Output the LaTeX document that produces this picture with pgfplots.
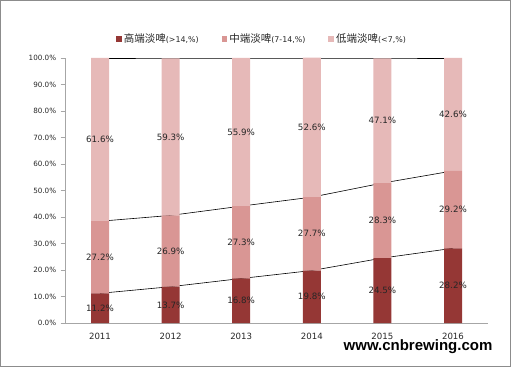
\documentclass[border=0pt]{standalone}
\usepackage{pgfplots}
\pgfplotsset{compat=1.18}
\usepackage{fontspec}
\setmainfont{DejaVu Sans}
\newfontfamily\cjk{Noto Sans CJK SC}
\newfontfamily\wm{Liberation Sans}
\definecolor{c1}{HTML}{953735}
\definecolor{c2}{HTML}{D99694}
\definecolor{c3}{HTML}{E6B9B8}
\definecolor{axgray}{HTML}{A6A6A6}
\definecolor{bordergray}{HTML}{8C8C8C}
\begin{document}
\begin{tikzpicture}[x=1pt,y=1pt]
\useasboundingbox (0,0) rectangle (511,367);
\draw[bordergray, line width=1.2pt] (0.6,0.6) rectangle (510.4,366.4);
\pgfplotsset{base/.style={scale only axis, width=423.6pt, height=265pt,
  at={(64.7pt,44pt)}, anchor=south west, xmin=-0.5, xmax=5.5, ymin=0, ymax=100}}
% series lines (behind bars)
\begin{axis}[base, hide axis]
\addplot[black, line width=0.6pt] coordinates {(0,11.2)(1,13.7)(2,16.8)(3,19.8)(4,24.5)(5,28.2)};
\addplot[black, line width=0.6pt] coordinates {(0,38.4)(1,40.6)(2,44.1)(3,47.5)(4,52.8)(5,57.4)};
\addplot[black, line width=0.6pt] coordinates {(0,100)(1,100)(2,100)(3,100)(4,100)(5,100)};
\end{axis}
\begin{axis}[base,
  ybar stacked, bar width=18pt,
  axis x line*=bottom, axis y line*=left,
  axis line style={axgray,-},
  xtick=data, xticklabels={2011,2012,2013,2014,2015,2016},
  xtick style={draw=none},
  ytick={0,10,...,100},
  ytick style={axgray},
  tick align=outside, major tick length=4pt,
  yticklabel={\pgfmathprintnumber[fixed,fixed zerofill,precision=1]{\tick}\%},
  /pgf/number format/assume math mode=true,
  yticklabel style={font=\fontsize{7.2}{9}\selectfont, text=black!85, xshift=-1pt},
  xticklabel style={font=\fontsize{8.6}{10}\selectfont, text=black!85, yshift=-3pt},
  legend columns=3,
  legend style={draw=none, fill=none, at={(0.466,1.072)}, anchor=center,
     font=\fontsize{7.9}{10}\selectfont, text=black!85,
     /tikz/every even column/.append style={column sep=21pt},
     /tikz/every odd column/.append style={column sep=0pt}},
  legend image code/.code={\fill[#1] (0pt,-2.9pt) rectangle (5.6pt,2.7pt);},
]
\addplot[fill=c1, draw=none] coordinates {(0,11.2)(1,13.7)(2,16.8)(3,19.8)(4,24.5)(5,28.2)};
\addplot[fill=c2, draw=none] coordinates {(0,27.2)(1,26.9)(2,27.3)(3,27.7)(4,28.3)(5,29.2)};
\addplot[fill=c3, draw=none] coordinates {(0,61.6)(1,59.3)(2,55.9)(3,52.6)(4,47.1)(5,42.6)};
\legend{{{\cjk\fontsize{10.5}{11}\selectfont 高端淡啤}(>14,\%)},{{\cjk\fontsize{10.5}{11}\selectfont 中端淡啤}(7-14,\%)},{{\cjk\fontsize{10.5}{11}\selectfont 低端淡啤}(<7,\%)}}
\end{axis}
% data labels, centred in each segment
\begin{axis}[base, hide axis,
  nodes near coords, point meta=explicit symbolic,
  every node near coord/.append style={font=\fontsize{8.7}{10}\selectfont, text=black!85, anchor=center}]
\addplot[draw=none, mark=none] coordinates {(0,5.6)[11.2\%] (1,6.85)[13.7\%] (2,8.4)[16.8\%] (3,9.9)[19.8\%] (4,12.25)[24.5\%] (5,14.1)[28.2\%]};
\addplot[draw=none, mark=none] coordinates {(0,24.8)[27.2\%] (1,27.15)[26.9\%] (2,30.45)[27.3\%] (3,33.65)[27.7\%] (4,38.65)[28.3\%] (5,42.8)[29.2\%]};
\addplot[draw=none, mark=none] coordinates {(0,69.2)[61.6\%] (1,70.25)[59.3\%] (2,72.05)[55.9\%] (3,73.8)[52.6\%] (4,76.35)[47.1\%] (5,78.7)[42.6\%]};
\end{axis}
\node[font=\wm\bfseries\fontsize{15}{16}\selectfont, anchor=center] at (418,20) {www.cnbrewing.com};
\end{tikzpicture}
\end{document}
